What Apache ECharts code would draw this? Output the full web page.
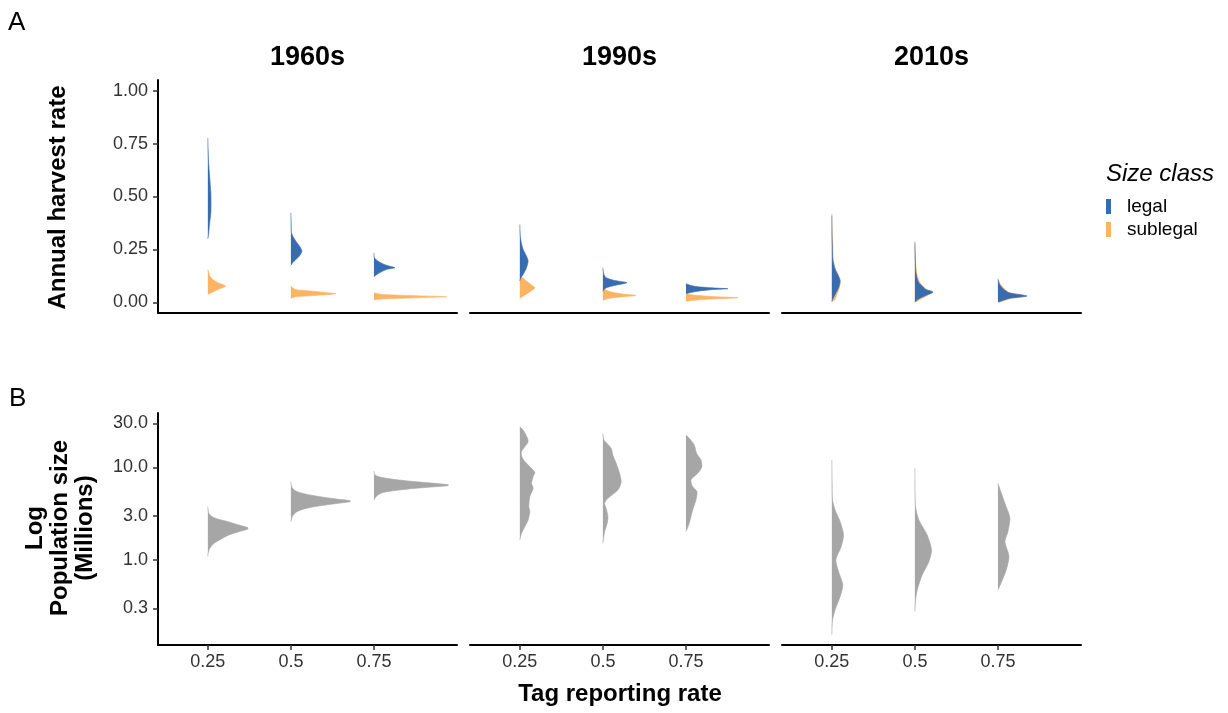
<!DOCTYPE html>
<html><head><meta charset="utf-8">
<script src="https://cdn.jsdelivr.net/npm/echarts@6/dist/echarts.min.js"></script>
<style>html,body{margin:0;padding:0;background:#fff}#c{width:1228px;height:713px}</style>
</head><body><div id="c"></div>
<script>
// ---------------- DATA ----------------
const decades = ['1960s', '1990s', '2010s'];
const reportingRates = [0.25, 0.5, 0.75];
const harvestTicks = [0, 0.25, 0.5, 0.75, 1];
const populationTicks = [0.3, 1, 3, 10, 30];
const sizeClasses = ['legal', 'sublegal'];

// half-violin outlines: [value, relative density], one outline per reporting rate (0.25, 0.5, 0.75)
// Annual harvest rate, legal
const legal1960s = [
  [[0.777,0],[0.722,0.3],[0.659,0.8],[0.596,1.8],[0.517,3],[0.470,3.2],[0.423,3],[0.36,1.5],[0.313,0.5],[0.30,0]],
  [[0.423,0],[0.376,0.3],[0.329,0.6],[0.31,2.3],[0.289,5],[0.263,9],[0.242,11],[0.218,8.3],[0.203,5],[0.187,1.7],[0.179,0.7],[0.175,0]],
  [[0.234,0],[0.211,0.5],[0.195,4],[0.184,8],[0.173,14],[0.1635,21],[0.156,13],[0.143,7],[0.132,3],[0.121,0]]
];
const legal1990s = [
  [[0.368,0],[0.313,0.5],[0.282,1.5],[0.25,3.3],[0.218,6.7],[0.195,8.3],[0.164,6.7],[0.132,3.3],[0.1165,1],[0.1006,0]],
  [[0.1635,0],[0.132,1],[0.1165,3.3],[0.1038,11.7],[0.093,24],[0.080,11.7],[0.069,3.3],[0.058,0.7],[0.052,0]],
  [[0.088,0],[0.080,5],[0.074,12],[0.0676,30],[0.0645,42],[0.060,25],[0.053,12],[0.047,5],[0.041,0]]
];
const legal2010s = [
  [[0.41,0],[0.30,0.3],[0.266,0.5],[0.203,0.9],[0.156,3.3],[0.124,6.7],[0.1006,8.3],[0.069,6.7],[0.0377,3.3],[0.014,0.7],[0.0047,0]],
  [[0.282,0],[0.20,0.4],[0.148,0.8],[0.1165,2],[0.093,4],[0.074,8],[0.061,11],[0.0487,18],[0.033,11],[0.0173,4],[0.006,0.7],[0.0016,0]],
  [[0.1085,0],[0.085,1.7],[0.061,6],[0.0456,11],[0.030,29],[0.019,11],[0.006,2.7],[0.0016,0]]
];
// Annual harvest rate, sublegal
const sublegal1960s = [
  [[0.156,0],[0.14,1],[0.124,2],[0.1085,5],[0.093,10],[0.077,18],[0.0645,12],[0.052,6],[0.042,2],[0.0377,0]],
  [[0.077,0],[0.068,2],[0.060,5],[0.054,20],[0.047,34],[0.041,45],[0.039,42],[0.035,30],[0.030,15],[0.027,5],[0.022,1.5],[0.019,0]],
  [[0.0456,0],[0.0377,8],[0.033,35],[0.028,66],[0.0265,73],[0.025,66],[0.0204,35],[0.0157,8],[0.011,0]]
];
const sublegal1990s = [
  [[0.132,0],[0.1165,3],[0.1006,6.7],[0.085,11],[0.069,15],[0.053,11],[0.0377,6],[0.022,0.7],[0.018,0]],
  [[0.069,0],[0.058,3],[0.0487,8.3],[0.0393,20],[0.033,33],[0.0267,20],[0.0204,8.3],[0.014,2],[0.008,0]],
  [[0.041,0],[0.0346,8],[0.028,25],[0.022,52],[0.0157,25],[0.0094,6],[0.0047,0]]
];
const sublegal2010s = [
  [[0.42,0],[0.33,0.4],[0.266,1],[0.203,1.5],[0.156,3.8],[0.124,7],[0.1006,8.5],[0.069,7.5],[0.0377,5],[0.014,3],[0.002,0]],
  [[0.29,0],[0.20,0.6],[0.148,1.5],[0.1165,3],[0.093,5],[0.074,8.5],[0.061,11.5],[0.0487,18],[0.033,12.5],[0.0173,6],[0.006,2.5],[0.0,0]],
  [[0.112,0],[0.085,2.5],[0.061,7],[0.0456,11.5],[0.030,28],[0.019,13],[0.006,5],[0.0,0]]
];
// Population size (millions)
const population1960s = [
  [[3.77,0],[3.20,1],[2.94,4.3],[2.75,11],[2.58,21],[2.39,31],[2.24,40],[2.16,40],[2.02,31],[1.86,21],[1.67,12.7],[1.51,6],[1.34,2],[1.18,0.3],[1.09,0]],
  [[7.03,0],[6.10,1],[5.62,4.3],[5.17,14.3],[4.80,31],[4.53,47.7],[4.38,59.3],[4.27,59.3],[4.06,44.3],[3.84,27.7],[3.59,14.3],[3.33,6],[2.99,1.7],[2.60,0]],
  [[9.17,0],[8.30,1],[7.77,8.3],[7.32,25],[6.91,48.3],[6.52,74.3],[6.36,74.3],[6.05,48.3],[5.71,25],[5.34,8.3],[4.92,2.7],[4.45,0]]
];
const population1990s = [
  [[27.6,0],[25.4,3.3],[21.5,7],[19.0,8.3],[16.8,5],[14.8,1.5],[13.1,2],[11.6,5],[9.8,11.7],[8.8,15],[7.96,13.3],[6.74,11.7],[5.95,13.3],[4.84,10],[3.77,9],[3.33,10],[2.71,8.3],[2.29,5],[1.94,1.7],[1.64,0]],
  [[23.4,0],[19.8,1],[18.3,4],[16.1,8.3],[13.6,10],[11.1,13.3],[8.65,16.7],[7.03,18.3],[5.71,15],[4.64,5],[4.10,1.7],[3.62,3.3],[2.94,5],[2.49,4.3],[2.02,1.7],[1.51,0]],
  [[22.5,0],[20.7,3.3],[17.5,8.3],[14.2,10.7],[12.1,15],[10.2,16],[8.65,11.7],[7.32,5],[6.21,6.7],[5.48,11],[4.45,10],[3.47,6.7],[2.49,3.3],[2.02,0]]
];
const population2010s = [
  [[12.05,0],[7.0,0.3],[4.45,0.7],[3.47,3.3],[2.60,8.3],[1.86,11.7],[1.39,9.3],[1.0,4],[0.718,7.3],[0.537,11],[0.402,8.3],[0.288,3.3],[0.225,0.7],[0.155,0]],
  [[9.8,0],[3.77,0.7],[2.71,4],[1.86,12.3],[1.28,16.7],[0.96,14],[0.689,7.3],[0.474,2.3],[0.369,0.7],[0.276,0]],
  [[6.74,0],[5.95,1.7],[4.10,7],[2.82,12],[2.02,10],[1.58,7],[1.09,11],[0.78,8.3],[0.583,3.7],[0.474,0]]
];

// ---------------- CHART ----------------
const legalByDecade = [legal1960s, legal1990s, legal2010s];
const sublegalByDecade = [sublegal1960s, sublegal1990s, sublegal2010s];
const populationByDecade = [population1960s, population1990s, population2010s];

const DENSITY_SCALE = 0.9 / 299; // x-axis units per density unit
const FONT = '"Liberation Sans", Arial, Helvetica, sans-serif';
const COLORS = { legal: '#386CB0', sublegal: '#FDB462', population: '#A6A6A6' };
const panelLeft = [158, 470, 782];
const panelWidth = 299;
const tickColor = '#333';

const chart = echarts.init(document.getElementById('c'), null, { renderer: 'canvas' });

const grids = [], xAxes = [], yAxes = [], series = [];
const ident = v => v;
const log10 = v => Math.log10(v);

for (let row = 0; row < 2; row++) {
  for (let col = 0; col < 3; col++) {
    const gi = row * 3 + col;
    grids.push({
      left: panelLeft[col], width: panelWidth,
      top: row === 0 ? 80 : 413, height: row === 0 ? 233 : 232,
      outerBoundsMode: 'none'
    });
    xAxes.push({
      gridIndex: gi, type: 'value', min: 0.1, max: 1.0,
      axisLine: { show: true, onZero: false, lineStyle: { color: '#000', width: 2 } },
      splitLine: { show: false },
      axisTick: { show: row === 1, customValues: reportingRates, length: 5, lineStyle: { color: tickColor, width: 1.5 } },
      axisLabel: { show: row === 1, customValues: reportingRates, formatter: v => String(v),
        fontFamily: FONT, fontSize: 18, color: tickColor, margin: 8 }
    });
    const showY = col === 0;
    if (row === 0) {
      yAxes.push({
        gridIndex: gi, type: 'value', min: -0.05, max: 1.05,
        axisLine: { show: showY, onZero: false, lineStyle: { color: '#000', width: 2 } },
        splitLine: { show: false },
        axisTick: { show: showY, customValues: harvestTicks, length: 5, lineStyle: { color: tickColor, width: 1.5 } },
        axisLabel: { show: showY, customValues: harvestTicks, formatter: v => v.toFixed(2),
          fontFamily: FONT, fontSize: 18, color: tickColor, margin: 10 }
      });
    } else {
      const lt = populationTicks.map(log10);
      yAxes.push({
        gridIndex: gi, type: 'value', min: -0.919, max: 1.589,
        axisLine: { show: showY, onZero: false, lineStyle: { color: '#000', width: 2 } },
        splitLine: { show: false },
        axisTick: { show: showY, customValues: lt, length: 5, lineStyle: { color: tickColor, width: 1.5 } },
        axisLabel: { show: showY, customValues: lt, formatter: v => Math.pow(10, v).toFixed(1),
          fontFamily: FONT, fontSize: 18, color: tickColor, margin: 10 }
      });
    }
  }
}

function violinSeries(name, color, gi, shapes, transformY, z) {
  return {
    type: 'custom', name: name, xAxisIndex: gi, yAxisIndex: gi, z: z,
    itemStyle: { color: color },
    silent: true,
    data: reportingRates.map((r, i) => [r, transformY(shapes[i][0][0])]),
    renderItem: function (params, api) {
      const rate = reportingRates[params.dataIndex];
      const outline = shapes[params.dataIndex];
      const pts = outline.map(p => api.coord([rate + p[1] * DENSITY_SCALE, transformY(p[0])]));
      return {
        type: 'polyline',
        shape: { points: pts, smooth: 0.25, smoothConstraint: [pts[0], pts[0]] },
        style: { fill: color, stroke: color, lineWidth: 0.6 }
      };
    }
  };
}

for (let col = 0; col < 3; col++) {
  series.push(violinSeries('sublegal', COLORS.sublegal, col, sublegalByDecade[col], ident, 2));
  series.push(violinSeries('legal', COLORS.legal, col, legalByDecade[col], ident, 3));
  series.push(violinSeries('population', COLORS.population, 3 + col, populationByDecade[col], log10, 2));
}

const graphics = [
  { type: 'text', x: 8, y: 23, style: { text: 'A', font: '26px ' + FONT, fill: '#000', verticalAlign: 'middle' } },
  { type: 'text', x: 9, y: 399, style: { text: 'B', font: '26px ' + FONT, fill: '#000', verticalAlign: 'middle' } },
  { type: 'text', x: 58, y: 197.5, rotation: Math.PI / 2,
    style: { text: 'Annual harvest rate', font: 'bold 24px ' + FONT, fill: '#000', align: 'center', verticalAlign: 'middle' } },
  { type: 'text', x: 60, y: 528, rotation: Math.PI / 2,
    style: { text: 'Log\nPopulation size\n(Millions)', font: 'bold 24px ' + FONT, lineHeight: 25, fill: '#000', align: 'center', verticalAlign: 'middle' } },
  { type: 'text', x: 620, y: 694,
    style: { text: 'Tag reporting rate', font: 'bold 24px ' + FONT, fill: '#000', align: 'center', verticalAlign: 'middle' } },
  { type: 'text', x: 1106, y: 174,
    style: { text: 'Size class', font: 'italic 24px ' + FONT, fill: '#000', verticalAlign: 'middle' } }
];
decades.forEach((d, i) => {
  graphics.push({ type: 'text', x: panelLeft[i] + panelWidth / 2, y: 58,
    style: { text: d, font: 'bold 27px ' + FONT, fill: '#000', align: 'center', verticalAlign: 'middle' } });
});

chart.setOption({
  animation: false,
  backgroundColor: '#fff',
  grid: grids, xAxis: xAxes, yAxis: yAxes, series: series,
  legend: {
    data: sizeClasses, orient: 'vertical', left: 1106, top: 197,
    icon: 'rect', itemWidth: 5, itemHeight: 15, itemGap: 4, padding: 0,
    selectedMode: false,
    textStyle: { fontFamily: FONT, fontSize: 19, color: '#000', padding: [0, 0, 0, 11] }
  },
  graphic: graphics
});
</script>
</body></html>
